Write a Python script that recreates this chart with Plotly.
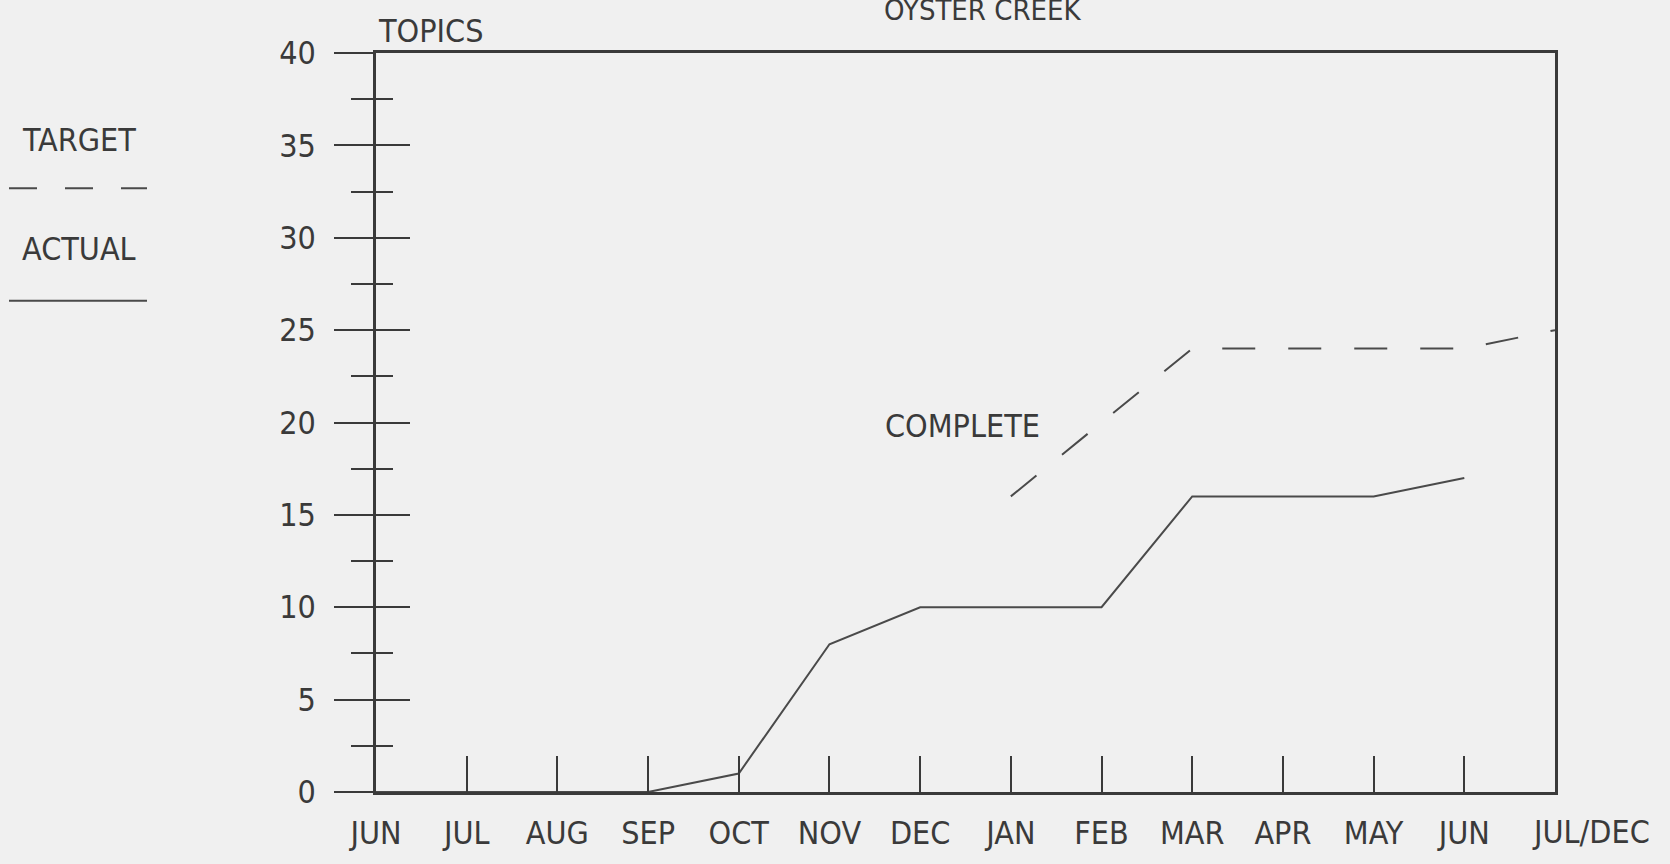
import plotly.graph_objects as go

# ---- data ----
months = ["JUN", "JUL", "AUG", "SEP", "OCT", "NOV", "DEC", "JAN", "FEB",
          "MAR", "APR", "MAY", "JUN", "JUL/DEC"]
actual_idx = [0, 1, 2, 3, 4, 5, 6, 7, 8, 9, 10, 11, 12]
actual_vals = [0, 0, 0, 0, 1, 8, 10, 10, 10, 16, 16, 16, 17]
target_idx = [7, 8, 9, 10, 11, 12, 13]
target_vals = [16, 20, 24, 24, 24, 24, 25]
y_ticks = [0, 5, 10, 15, 20, 25, 30, 35, 40]
title_text = "OYSTER CREEK"
y_title = "TOPICS"
series_note = "COMPLETE"
legend_labels = ["TARGET", "ACTUAL"]

# ---- style ----
BG = "#f0f0f0"
INK = "#3a3a3a"
LINE = "#4a4a4a"
FONT = "DejaVu Sans Condensed, DejaVu Sans, sans-serif"
FS = 32

fig = go.Figure()
fig.add_trace(go.Scatter(x=actual_idx, y=actual_vals, mode="lines",
                         line=dict(color=LINE, width=2), showlegend=False,
                         hoverinfo="skip"))
fig.add_trace(go.Scatter(x=target_idx, y=target_vals, mode="lines",
                         line=dict(color=LINE, width=2, dash="33px,33px"),
                         showlegend=False, hoverinfo="skip"))
# invisible trace so the overlaid inner-tick axis is drawn
fig.add_trace(go.Scatter(x=[None], y=[None], yaxis="y2", showlegend=False,
                         hoverinfo="skip"))

fig.update_layout(
    width=1670, height=864,
    margin=dict(l=376, r=115, t=53, b=68),
    paper_bgcolor=BG, plot_bgcolor=BG,
    font=dict(family=FONT, size=FS, color=INK),
    xaxis=dict(range=[0, 13], tickmode="array",
               tickvals=list(range(13)), ticktext=months[:13],
               ticks="inside", ticklen=36, tickwidth=2, tickcolor=INK,
               showline=True, linewidth=2.5, linecolor=INK, mirror=True,
               showgrid=False, zeroline=False, ticklabelstandoff=11,
               tickfont=dict(family=FONT, size=FS, color=INK)),
    yaxis=dict(range=[0, 40], tickmode="array", tickvals=y_ticks,
               ticks="outside", ticklen=39, tickwidth=2, tickcolor=INK,
               minor=dict(dtick=2.5, tick0=0, ticks="outside", ticklen=22,
                          tickwidth=2, tickcolor=INK, showgrid=False),
               showline=True, linewidth=2.5, linecolor=INK, mirror=True,
               showgrid=False, zeroline=False, ticklabelstandoff=12,
               tickfont=dict(family=FONT, size=FS, color=INK)),
    yaxis2=dict(range=[0, 40], overlaying="y", anchor="x", side="left",
                tickmode="array", tickvals=y_ticks, showticklabels=False,
                ticks="inside", ticklen=34, tickwidth=2, tickcolor=INK,
                minor=dict(dtick=2.5, tick0=0, ticks="inside", ticklen=17,
                           tickwidth=2, tickcolor=INK, showgrid=False),
                showline=False, showgrid=False, zeroline=False),
)

ann = []
# title (partly cut by the top edge, as in the scan)
ann.append(dict(text=title_text, xref="x", yref="paper", x=(983 - 376) / 90.7,
                y=1, xanchor="center", yanchor="bottom", yshift=24,
                showarrow=False, font=dict(family=FONT, size=29, color=INK)))
ann.append(dict(text=y_title, xref="paper", yref="paper", x=0, y=1,
                xanchor="left", yanchor="bottom", xshift=0, yshift=1,
                showarrow=False, font=dict(family=FONT, size=FS, color=INK)))
ann.append(dict(text=series_note, xref="x", yref="y", x=6.47, y=19.8,
                xanchor="center", yanchor="middle", showarrow=False,
                font=dict(family=FONT, size=FS, color=INK)))
ann.append(dict(text=months[13], xref="x", yref="paper", x=13, y=0,
                xanchor="center", yanchor="top", xshift=36, yshift=-19,
                showarrow=False, font=dict(family=FONT, size=FS, color=INK)))
# legend text
PW, PH, PL, PT = 1179.0, 743.0, 376.0, 53.0
def px(xp):
    return (xp - PL) / PW
def py(yp):
    return 1 - (yp - PT) / PH
ann.append(dict(text=legend_labels[0], xref="paper", yref="paper",
                x=px(79), y=py(140), xanchor="center", yanchor="middle",
                showarrow=False, font=dict(family=FONT, size=FS, color=INK)))
ann.append(dict(text=legend_labels[1], xref="paper", yref="paper",
                x=px(79), y=py(250), xanchor="center", yanchor="middle",
                showarrow=False, font=dict(family=FONT, size=FS, color=INK)))
fig.update_layout(annotations=ann)

shapes = [
    dict(type="line", xref="paper", yref="paper", x0=px(9), x1=px(147),
         y0=py(189), y1=py(189), line=dict(color=LINE, width=2, dash="28px,28px")),
    dict(type="line", xref="paper", yref="paper", x0=px(9), x1=px(147),
         y0=py(302), y1=py(302), line=dict(color=LINE, width=2)),
]
fig.update_layout(shapes=shapes)

post = ("document.body.style.margin='0';"
        "document.body.style.overflow='hidden';"
        "document.body.style.background='" + BG + "';")
fig.write_html("out.html", post_script=post,
               config={"displayModeBar": False})
